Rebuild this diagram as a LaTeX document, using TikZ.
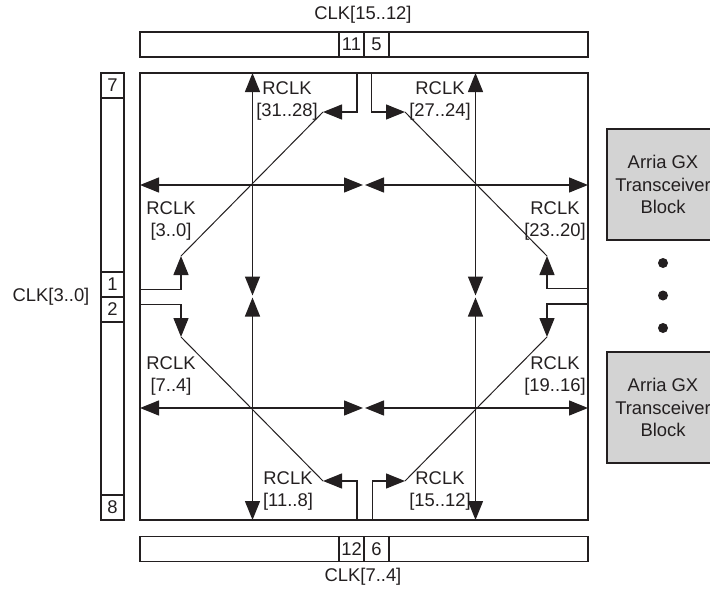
\documentclass[tikz,border=0pt]{standalone}
\usepackage{fontspec}
\setmainfont{Liberation Sans}
\usetikzlibrary{arrows.meta}
\definecolor{ink}{RGB}{35,31,32}
\definecolor{boxgray}{RGB}{211,211,211}
\tikzset{
  txt/.style={font=\fontsize{18.4}{22.8}\selectfont, text=ink, inner sep=0pt, align=center},
  frame/.style={draw=ink, line width=1.3pt, inner sep=0pt},
  cellbox/.style={frame, minimum width=25pt, minimum height=25pt, font=\fontsize{18.4}{22.8}\selectfont, text=ink},
  wire/.style={draw=ink, line width=1.3pt},
  diag/.style={draw=ink, line width=1pt},
  tipone/.style={-{Triangle[length=19pt,width=15pt]}},
  tiptwo/.style={{Triangle[length=19pt,width=15pt]}-{Triangle[length=19pt,width=15pt]}},
  xcvr/.style={frame, fill=boxgray, minimum width=112pt, minimum height=111pt, font=\fontsize{18.4}{22.8}\selectfont, text=ink, align=center},
  dot/.style={circle, fill=ink, minimum size=10pt, inner sep=0pt}
}
\begin{document}
\begin{tikzpicture}[x=1pt,y=-1pt]
\useasboundingbox (0,0) rectangle (710,589);
\clip (0,0) rectangle (710,589);
% bars and core
\node[frame, minimum width=448pt, minimum height=25pt] (topbar) at (364,44.5) {};
\node[cellbox] (c11) at (351.5,44.5) {11};
\node[cellbox] (c5) at (376.5,44.5) {5};
\node[frame, minimum width=448pt, minimum height=25pt] (botbar) at (364,549) {};
\node[cellbox] (c12) at (351.5,549) {12};
\node[cellbox] (c6) at (376.5,549) {6};
\node[frame, minimum width=23pt, minimum height=447pt] (leftbar) at (112.5,296.5) {};
\node[cellbox, minimum width=23pt] (c7) at (112.5,85.5) {7};
\node[cellbox, minimum width=23pt] (c1) at (112.5,284.5) {1};
\node[cellbox, minimum width=23pt] (c2) at (112.5,309.5) {2};
\node[cellbox, minimum width=23pt] (c8) at (112.5,507.5) {8};
\node[frame, minimum width=448pt, minimum height=447pt] (core) at (364,296.5) {};
% texts
\node[txt] (ttop) at (363,15) {CLK[15..12]};
\node[txt] (tbot) at (363,577) {CLK[7..4]};
\node[txt] (tleft) at (51,297) {CLK[3..0]};
\node[txt] (l1) at (287,101) {RCLK\\{[31..28]}};
\node[txt] (l2) at (440,101) {RCLK\\{[27..24]}};
\node[txt] (l3) at (171,221) {RCLK\\{[3..0]}};
\node[txt] (l4) at (555,221) {RCLK\\{[23..20]}};
\node[txt] (l5) at (171,376) {RCLK\\{[7..4]}};
\node[txt] (l6) at (555,376) {RCLK\\{[19..16]}};
\node[txt] (l7) at (288,491) {RCLK\\{[11..8]}};
\node[txt] (l8) at (440,491) {RCLK\\{[15..12]}};
% transceivers
\node[xcvr] (x1) at (663,184.5) {Arria GX\\Transceiver\\Block};
\node[xcvr] (x2) at (663,407.5) {Arria GX\\Transceiver\\Block};
\node[dot] (d1) at (663,263) {};
\node[dot] (d2) at (663,295.5) {};
\node[dot] (d3) at (663,328) {};
% grid coordinates
\coordinate (hUL) at (140,185); \coordinate (hUM1) at (363,185); \coordinate (hUM2) at (365,185); \coordinate (hUR) at (588,185);
\coordinate (hLL) at (140,408); \coordinate (hLM1) at (363,408); \coordinate (hLM2) at (365,408); \coordinate (hLR) at (588,408);
\coordinate (vLT) at (252.5,73); \coordinate (vLM1) at (252.5,295.5); \coordinate (vLM2) at (252.5,297.5); \coordinate (vLB) at (252.5,520);
\coordinate (vRT) at (475.5,73); \coordinate (vRM1) at (475.5,295.5); \coordinate (vRM2) at (475.5,297.5); \coordinate (vRB) at (475.5,520);
\draw[wire, tiptwo] (hUL) -- (hUM1);
\draw[wire, tiptwo] (hUM2) -- (hUR);
\draw[wire, tiptwo] (hLL) -- (hLM1);
\draw[wire, tiptwo] (hLM2) -- (hLR);
\draw[wire, tiptwo] (vLT) -- (vLM1);
\draw[wire, tiptwo] (vLM2) -- (vLB);
\draw[wire, tiptwo] (vRT) -- (vRM1);
\draw[wire, tiptwo] (vRM2) -- (vRB);
% diagonal endpoints
\coordinate (dLU) at (181,256); \coordinate (dTL) at (323,112);
\coordinate (dTR) at (405,112); \coordinate (dRU) at (547,256);
\coordinate (dLL) at (181,337); \coordinate (dBL) at (323,481);
\coordinate (dBR) at (405,481); \coordinate (dRL) at (547,337);
\draw[diag] (dLU) -- (dTL);
\draw[diag] (dTR) -- (dRU);
\draw[diag] (dLL) -- (dBL);
\draw[diag] (dBR) -- (dRL);
% feed points on core edges
\coordinate (fL1) at (140,289.5); \coordinate (fL2) at (140,304.5);
\coordinate (fR1) at (588,288.5); \coordinate (fR2) at (588,304);
\coordinate (fT1) at (357,73); \coordinate (fT2) at (371.5,73);
\coordinate (fB1) at (357,520); \coordinate (fB2) at (372.5,520);
\draw[wire, tipone] (fL1) -| (dLU);
\draw[wire, tipone] (fL2) -| (dLL);
\draw[wire, tipone] (fR1) -| (dRU);
\draw[wire, tipone] (fR2) -| (dRL);
\draw[wire, tipone] (fT1) |- (dTL);
\draw[wire, tipone] (fT2) |- (dTR);
\draw[wire, tipone] (fB1) |- (dBL);
\draw[wire, tipone] (fB2) |- (dBR);
\end{tikzpicture}
\end{document}
